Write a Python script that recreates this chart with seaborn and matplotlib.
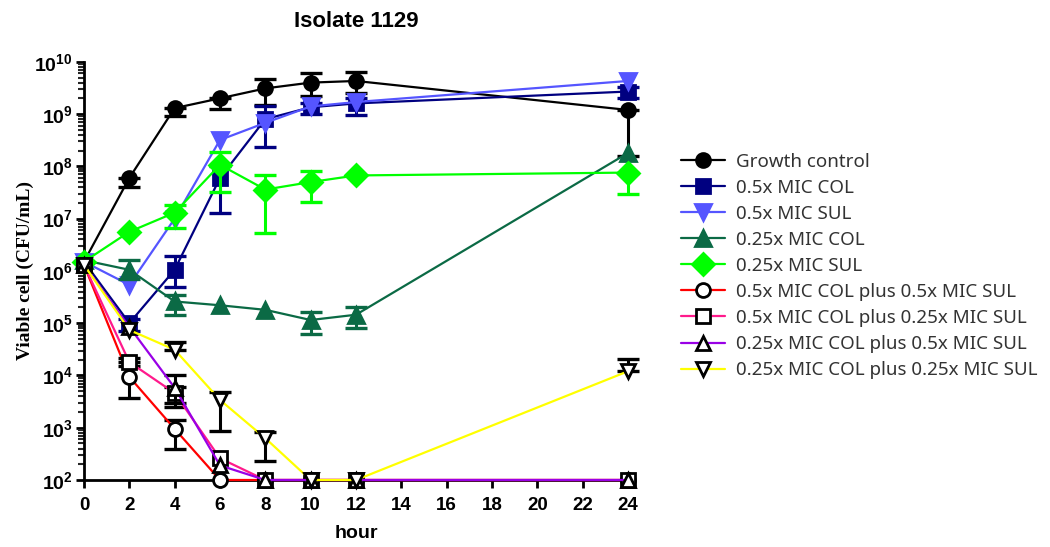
import numpy as np
import pandas as pd
import matplotlib
matplotlib.use("Agg")
import matplotlib.pyplot as plt
import seaborn as sns
from matplotlib.ticker import FixedLocator, FuncFormatter, LogLocator, NullFormatter

nan = np.nan
hours = [0, 2, 4, 6, 8, 10, 12, 24]

labels = [
    "Growth control",
    "0.5x MIC COL",
    "0.5x MIC SUL",
    "0.25x MIC COL",
    "0.25x MIC SUL",
    "0.5x MIC COL plus 0.5x MIC SUL",
    "0.5x MIC COL plus 0.25x MIC SUL",
    "0.25x MIC COL plus 0.5x MIC SUL",
    "0.25x MIC COL plus 0.25x MIC SUL",
]

growth = [1.5e6, 6e7, 1.3e9, 2e9, 3.1e9, 4e9, 4.3e9, 1.2e9]
growth_lo = [nan, 4e7, 9e8, 1.25e9, 1.5e9, 2.2e9, 2.5e9, 1.6e8]
growth_hi = [nan, nan, nan, nan, 4.7e9, 6.2e9, 6.4e9, nan]

col05 = [1.5e6, 1e5, 1.05e6, 6e7, 8e8, 1.35e9, 1.6e9, 2.7e9]
col05_lo = [nan, 7e4, 5e5, 1.3e7, 2.3e8, 1e9, 9.5e8, 2e9]
col05_hi = [nan, 1.2e5, 1.9e6, 1e8, 1.4e9, 1.6e9, 2e9, 3.3e9]

sul05 = [1.5e6, 5.4e5, 1e7, 3.2e8, 6.8e8, 1.4e9, 1.7e9, 4.3e9]
sul05_lo = [nan] * 8
sul05_hi = [nan] * 8

col025 = [1.6e6, 1.05e6, 2.6e5, 2.2e5, 1.8e5, 1.15e5, 1.45e5, 1.8e8]
col025_lo = [nan, 7e5, 1.45e5, nan, nan, 6.3e4, 8e4, nan]
col025_hi = [nan, 1.6e6, 3.5e5, nan, nan, 1.65e5, 2e5, nan]

sul025 = [1.5e6, 5.6e6, 1.3e7, 1.07e8, 3.6e7, 5e7, 6.7e7, 7.6e7]
sul025_lo = [nan, nan, 6.6e6, 3.2e7, 5.4e6, 2.1e7, nan, 3e7]
sul025_hi = [nan, nan, 1.8e7, 1.9e8, 6.9e7, 8e7, nan, nan]

c05s05 = [1.3e6, 9.4e3, 9.5e2, 100, 100, 100, 100, 100]
c05s05_lo = [nan, 3.7e3, 4e2, nan, nan, nan, nan, nan]
c05s05_hi = [nan, 1.5e4, 1.4e3, nan, nan, nan, nan, nan]

c05s025 = [1.3e6, 1.8e4, 4.6e3, 2.6e2, 100, 100, 100, 100]
c05s025_lo = [nan, nan, 2.5e3, nan, nan, nan, nan, nan]
c05s025_hi = [nan, 2.2e4, 6e3, nan, nan, nan, nan, nan]

c025s05 = [1.3e6, 8.5e4, 5.8e3, 1.9e2, 100, 100, 100, 100]
c025s05_lo = [nan, nan, 3e3, nan, nan, nan, nan, nan]
c025s05_hi = [nan, nan, 1e4, nan, nan, nan, nan, nan]

c025s025 = [1.3e6, 7.4e4, 3.1e4, 3.4e3, 6.3e2, 100, 100, 1.2e4]
c025s025_lo = [nan, nan, nan, 8.7e2, 2.3e2, nan, nan, nan]
c025s025_hi = [nan, nan, 4.4e4, 4.8e3, 8.3e2, nan, nan, 2.1e4]

series = [growth, col05, sul05, col025, sul025, c05s05, c05s025, c025s05, c025s025]
lows = [growth_lo, col05_lo, sul05_lo, col025_lo, sul025_lo, c05s05_lo, c05s025_lo, c025s05_lo, c025s025_lo]
highs = [growth_hi, col05_hi, sul05_hi, col025_hi, sul025_hi, c05s05_hi, c05s025_hi, c025s05_hi, c025s025_hi]

line_colors = ["#000000", "#000080", "#5555ff", "#0b6a45", "#00ff00",
               "#ff0000", "#ff1a8c", "#9900e6", "#ffff00"]
markers = ["o", "s", "v", "^", "D", "o", "s", "^", "v"]
face_colors = ["#000000", "#000080", "#5555ff", "#0b6a45", "#00ff00",
               "white", "white", "white", "white"]
edge_colors = ["#000000", "#000080", "#5555ff", "#0b6a45", "#00ff00",
               "#000000", "#000000", "#000000", "#000000"]
marker_sizes = [10, 10, 11, 11, 11, 10, 10, 10, 10]

sns.set_theme(style="ticks")
plt.rcParams["font.family"] = ["Liberation Sans", "DejaVu Sans"]
plt.rcParams["mathtext.fontset"] = "custom"
plt.rcParams["mathtext.bf"] = "Liberation Sans:bold"
plt.rcParams["mathtext.rm"] = "Liberation Sans:bold"
plt.rcParams["text.color"] = "black"
plt.rcParams["axes.labelcolor"] = "black"

fig = plt.figure(figsize=(10.5, 5.47), dpi=100)
ax = fig.add_axes([0.08, 0.1225, 0.518, 0.7645])

for i, lab in enumerate(labels):
    vals = np.array(series[i], dtype=float)
    lo = np.array(lows[i], dtype=float)
    hi = np.array(highs[i], dtype=float)
    sns.lineplot(x=hours, y=vals, ax=ax, color=line_colors[i], linewidth=1.6,
                 marker=markers[i], markersize=marker_sizes[i],
                 markerfacecolor=face_colors[i], markeredgecolor=edge_colors[i],
                 markeredgewidth=2.0, label=lab, errorbar=None, zorder=3 + i * 0.1,
                 clip_on=False)
    err_lo = np.where(np.isnan(lo), 0, vals - np.where(np.isnan(lo), vals, lo))
    err_hi = np.where(np.isnan(hi), 0, np.where(np.isnan(hi), vals, hi) - vals)
    mask = (~np.isnan(lo)) | (~np.isnan(hi))
    if mask.any():
        ax.errorbar(np.array(hours)[mask], vals[mask],
                    yerr=[err_lo[mask], err_hi[mask]], fmt="none",
                    ecolor=edge_colors[i], elinewidth=2.2, capsize=8, capthick=2.4,
                    zorder=2.9 + i * 0.1, clip_on=False)

ax.set_yscale("log")
ax.set_xlim(0, 24)
ax.set_ylim(1e2, 1e10)
ax.xaxis.set_major_locator(FixedLocator(list(range(0, 25, 2))))
ax.yaxis.set_major_locator(LogLocator(base=10, numticks=20))
ax.yaxis.set_minor_locator(LogLocator(base=10, subs=np.arange(2, 10), numticks=20))
ax.yaxis.set_minor_formatter(NullFormatter())
ax.yaxis.set_major_formatter(FuncFormatter(lambda v, p: r"$\mathbf{10^{%d}}$" % round(np.log10(v))))

for side in ["top", "right"]:
    ax.spines[side].set_visible(False)
for side in ["left", "bottom"]:
    ax.spines[side].set_linewidth(2)
    ax.spines[side].set_color("black")
ax.tick_params(axis="both", which="major", direction="out", length=6, width=2,
               colors="black")
ax.tick_params(axis="y", which="major", labelsize=14, pad=2)
ax.tick_params(axis="x", which="major", pad=6)
ax.tick_params(axis="y", which="minor", direction="out", length=4, width=1.5)
ax.set_xticks(list(range(0, 25, 2)))
ax.set_xticklabels([str(h) for h in range(0, 25, 2)], fontweight="bold", fontsize=13.5)

ax.set_xlabel("hour", fontsize=14, fontweight="bold", labelpad=8, color="black")
ax.set_ylabel("Viable cell (CFU/mL)", fontsize=14, fontweight="bold",
              family=["Liberation Serif"], labelpad=0, color="black")
ax.set_title("Isolate 1129", fontsize=16, fontweight="bold", pad=25, color="black")

leg = ax.legend(loc="center left", bbox_to_anchor=(1.066, 0.512), frameon=False,
                handlelength=2.35, handletextpad=0.6, labelspacing=0.43,
                prop={"family": ["Noto Sans", "DejaVu Sans"], "size": 13.5})
for txt in leg.get_texts():
    txt.set_color("#333333")

fig.savefig("out.png", dpi=100)
